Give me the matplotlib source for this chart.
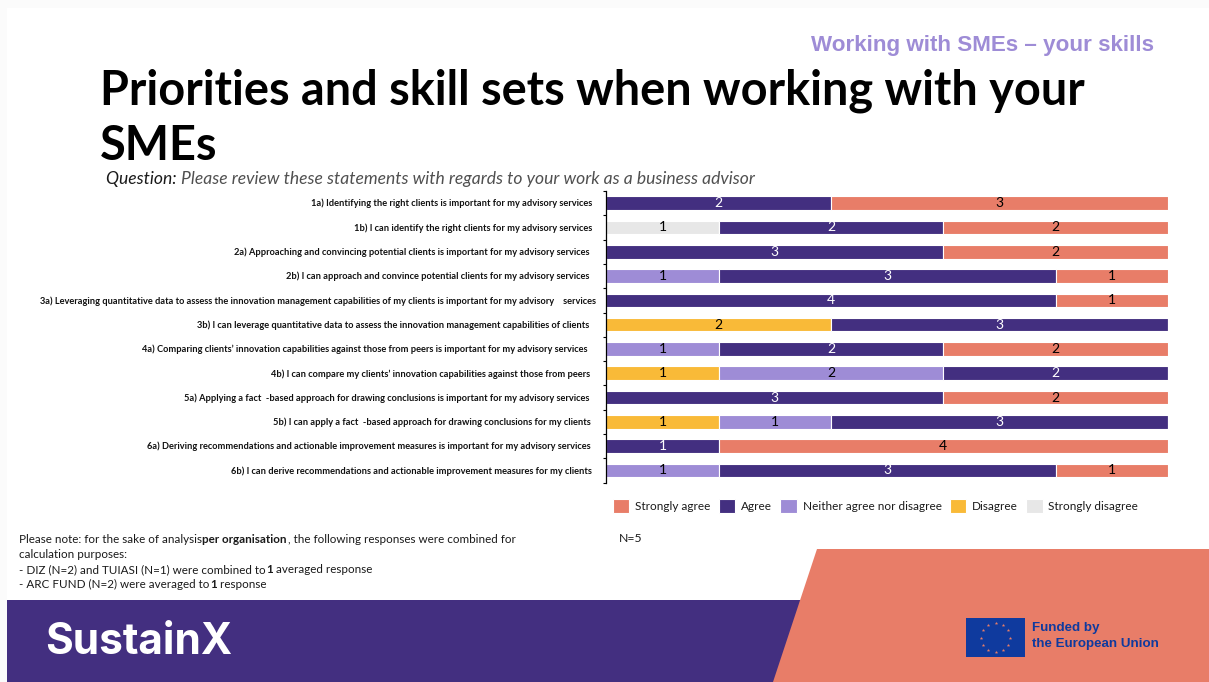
import numpy as np
import matplotlib
matplotlib.use("Agg")
import matplotlib.pyplot as plt
from matplotlib.patches import Polygon, Rectangle

W, H = 1209, 682

questions = [
    "1a) Identifying the right clients is important for my advisory services",
    "1b) I can identify the right clients for my advisory services",
    "2a) Approaching and convincing potential clients is important for my advisory services",
    "2b) I can approach and convince potential clients for my advisory services",
    "3a) Leveraging quantitative data to assess the innovation management capabilities of my clients is important for my advisory    services",
    "3b) I can leverage quantitative data to assess the innovation management capabilities of clients",
    "4a) Comparing clients’ innovation capabilities against those from peers is important for my advisory services",
    "4b) I can compare my clients’ innovation capabilities against those from peers",
    "5a) Applying a fact  -based approach for drawing conclusions is important for my advisory services",
    "5b) I can apply a fact  -based approach for drawing conclusions for my clients",
    "6a) Deriving recommendations and actionable improvement measures is important for my advisory services",
    "6b) I can derive recommendations and actionable improvement measures for my clients",
]
strongly_disagree = [0, 1, 0, 0, 0, 0, 0, 0, 0, 0, 0, 0]
disagree          = [0, 0, 0, 0, 0, 2, 0, 1, 0, 1, 0, 0]
neither           = [0, 0, 0, 1, 0, 0, 1, 2, 0, 1, 0, 1]
agree             = [2, 2, 3, 3, 4, 3, 2, 2, 3, 3, 1, 3]
strongly_agree    = [3, 2, 2, 1, 1, 0, 2, 0, 2, 0, 4, 1]

label_right_px = [592, 592, 589, 589, 596, 589, 588, 590, 589, 591, 591, 592]

PURPLE, CORAL, LILAC, AMBER, GREY = "#432F80", "#E87D68", "#9E8CD6", "#F9BA38", "#E7E7E7"
plt.rcParams["font.family"] = ["Lato", "DejaVu Sans"]

fig = plt.figure(figsize=(W / 100, H / 100), dpi=100, facecolor="#FBFBFB")

# Slide canvas in pixel coordinates
bg = fig.add_axes([0, 0, 1, 1], zorder=0)
bg.set_xlim(0, W)
bg.set_ylim(H, 0)
bg.axis("off")
bg.add_patch(Rectangle((7, 8), W - 7, H - 8, fc="white", ec="none"))
bg.add_patch(Rectangle((7, 600), 800, 82, fc=PURPLE, ec="none"))
bg.add_patch(Polygon([(817, 549), (W, 549), (W, H), (773, H)], fc=CORAL, ec="none"))

bg.text(1154, 45.5, "Working with SMEs – your skills", ha="right", va="center",
        family="Liberation Sans", weight="bold", fontsize=16.1, color=LILAC)
bg.text(100, 91, "Priorities and skill sets when working with your", va="center",
        weight="bold", fontsize=33.75, color="black")
bg.text(100, 146, "SMEs", va="center", weight="bold", fontsize=33.75, color="black")


def runs(x, y, pieces, size, color="#1A1A1A"):
    """Draw consecutive text fragments with individual styles on one baseline."""
    rend = fig.canvas.get_renderer()
    for s, kw in pieces:
        style = dict(color=color)
        style.update(kw)
        t = bg.text(x, y, s, va="baseline", fontsize=size, **style)
        x = t.get_window_extent(rend).x1 + 0.5


runs(106, 184, [("Question: ", dict(style="italic")),
                ("Please review these statements with regards to your work as a business advisor",
                 dict(style="italic", color="#505050"))], 12.6)

runs(19, 543, [("Please note: for the sake of analysis", {}), ("per organisation", dict(weight="bold")),
               (", the following responses were combined for", {})], 8.4)
runs(19, 558, [("calculation purposes:", {})], 8.4)
runs(19, 573, [("- DIZ (N=2) and TUIASI (N=1) were combined to", {}), ("1", dict(weight="bold")),
               (" averaged response", {})], 8.4)
runs(19, 588, [("- ARC FUND (N=2) were averaged to", {}), ("1", dict(weight="bold")),
               (" response", {})], 8.4)
bg.text(619, 538, "N=5", va="center", fontsize=8.8, color="#1A1A1A")

bg.text(45, 643, "SustainX", va="center", family="Inter", weight="bold", fontsize=30.5, color="white")

# EU emblem and funding line
bg.add_patch(Rectangle((966, 618), 59, 39, fc="#0F3A9E", ec="none"))
theta = np.deg2rad(np.arange(0, 360, 30))
bg.scatter(995.5 + 14.5 * np.cos(theta), 637.5 + 14.5 * np.sin(theta), marker="*", s=7,
           color=CORAL, linewidths=0)
bg.text(1032, 628.5, "Funded by", va="center", family="Liberation Sans", weight="bold",
        fontsize=9.6, color="#0F3A9E")
bg.text(1032, 644.5, "the European Union", va="center", family="Liberation Sans", weight="bold",
        fontsize=9.6, color="#0F3A9E")

# Stacked response chart
left, right, top, bottom = 606.4, 1167.8, 191, 482.6
ax = fig.add_axes([left / W, 1 - bottom / H, (right - left) / W, (bottom - top) / H], zorder=1)
ax.patch.set_alpha(0)
ax.set_xlim(0, 5)
ax.set_ylim(len(questions), 0)
for s in ["top", "right", "bottom"]:
    ax.spines[s].set_visible(False)
ax.spines["left"].set_linewidth(0.9)
ax.set_xticks([])
ax.set_yticks(np.arange(len(questions) + 1))
ax.set_yticklabels([])
ax.tick_params(axis="y", length=2.5, width=0.8, direction="out")

y = np.arange(len(questions)) + 0.5
series = [("Strongly disagree", strongly_disagree, GREY, "black"),
          ("Disagree", disagree, AMBER, "black"),
          ("Neither agree nor disagree", neither, LILAC, "black"),
          ("Agree", agree, PURPLE, "white"),
          ("Strongly agree", strongly_agree, CORAL, "black")]
base = np.zeros(len(questions))
handles = {}
for name, vals, col, txt in series:
    vals = np.array(vals, float)
    handles[name] = ax.barh(y, vals, left=base, height=0.56, color=col, edgecolor="white",
                            linewidth=0.8, label=name)
    for yi, b, v in zip(y, base, vals):
        if v > 0:
            ax.text(b + v / 2, yi, f"{int(v)}", ha="center", va="center", fontsize=10, color=txt)
    base += vals

for i, (q, rx) in enumerate(zip(questions, label_right_px)):
    bg.text(rx, top + (i + 0.5) * (bottom - top) / 12 + 0.5, q, ha="right", va="center",
            weight="bold", fontsize=6.65, color="#111111")

order = ["Strongly agree", "Agree", "Neither agree nor disagree", "Disagree", "Strongly disagree"]
fig.legend([handles[n] for n in order], order, ncols=5, frameon=False, fontsize=8.5,
           loc="center left", bbox_to_anchor=(607 / W, 1 - 506 / H), borderpad=0, borderaxespad=0.5,
           handlelength=1.4, handleheight=1.35, handletextpad=0.5, columnspacing=0.68,
           labelcolor="#1A1A1A")

fig.savefig("out.png", dpi=100, facecolor=fig.get_facecolor())
